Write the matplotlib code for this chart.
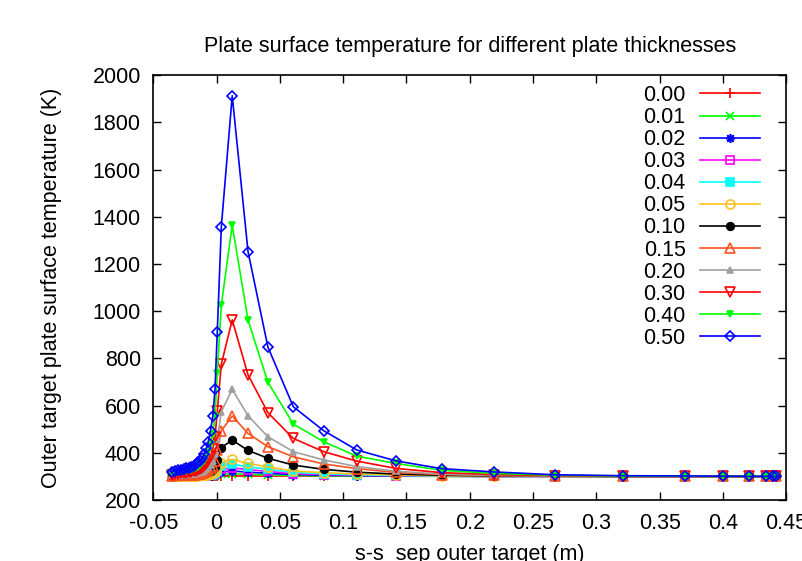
import matplotlib
matplotlib.use("Agg")
import matplotlib.pyplot as plt
import numpy as np

plt.rcParams['font.family'] = ['Liberation Sans', 'DejaVu Sans']

# shared x grid (s - s_sep, m)
x_vals = [-0.0355, -0.0330, -0.0306, -0.0283, -0.0261, -0.0240, -0.0220, -0.0200,
          -0.0181, -0.0163, -0.0146, -0.0130, -0.0114, -0.0098, -0.0082, -0.0066,
          -0.0048, -0.0030, -0.0013, 0.0005, 0.0037,
          0.0123, 0.0248, 0.0405, 0.0606, 0.0845, 0.1107, 0.1416, 0.1777, 0.2190,
          0.2674, 0.3214, 0.3697, 0.4003, 0.4206, 0.4338, 0.4395, 0.4422]

labels = ["0.00", "0.01", "0.02", "0.03", "0.04", "0.05",
          "0.10", "0.15", "0.20", "0.30", "0.40", "0.50"]

t_000 = [300] * 38
t_001 = [300, 300, 300, 300, 300, 300, 300, 300, 300, 300, 300, 300, 300, 300, 301, 301,
         301, 302, 302, 305, 309,
         311, 309, 306, 304, 303, 302, 301, 300, 300, 300, 300, 300, 300, 300, 300, 300, 300]
t_002 = [300, 300, 300, 301, 301, 301, 301, 301, 301, 301, 301, 301, 301, 302, 302, 303,
         303, 305, 307, 311, 319,
         323, 318, 313, 308, 305, 303, 302, 301, 300, 300, 300, 300, 300, 300, 300, 300, 300]
t_003 = [300, 301, 301, 301, 301, 301, 301, 301, 301, 301, 302, 302, 302, 303, 303, 304,
         305, 307, 310, 317, 330,
         336, 329, 321, 312, 308, 305, 303, 301, 300, 300, 300, 300, 300, 300, 300, 300, 300]
t_004 = [301, 301, 301, 301, 301, 301, 301, 302, 302, 302, 302, 303, 303, 304, 305, 306,
         308, 310, 315, 325, 345,
         352, 341, 330, 317, 311, 307, 304, 302, 301, 300, 300, 300, 300, 300, 300, 300, 300]
t_005 = [301, 301, 301, 302, 302, 302, 302, 302, 303, 303, 303, 304, 304, 305, 307, 308,
         311, 314, 320, 334, 358,
         372, 355, 340, 323, 316, 310, 306, 303, 301, 300, 300, 300, 300, 300, 300, 300, 300]
t_010 = [302, 303, 303, 303, 304, 304, 304, 305, 305, 306, 307, 308, 309, 311, 314, 317,
         322, 330, 342, 370, 422,
         454, 410, 377, 348, 330, 318, 310, 305, 302, 301, 300, 300, 300, 300, 300, 300, 300]
t_015 = [303, 304, 305, 305, 306, 306, 307, 307, 308, 309, 311, 312, 314, 317, 322, 326,
         335, 346, 366, 410, 494,
         556, 482, 426, 383, 353, 333, 317, 308, 304, 301, 300, 300, 300, 300, 300, 300, 300]
t_020 = [305, 306, 307, 308, 308, 309, 310, 311, 312, 314, 315, 317, 320, 325, 331, 338,
         350, 367, 396, 460, 574,
         669, 557, 468, 405, 370, 342, 322, 310, 305, 302, 301, 300, 300, 300, 300, 300, 300]
t_030 = [308, 311, 312, 313, 314, 315, 317, 318, 321, 323, 327, 330, 335, 343, 354, 366,
         387, 416, 466, 576, 776,
         963, 730, 570, 461, 405, 365, 334, 316, 308, 303, 301, 300, 300, 300, 300, 300, 300]
t_040 = [313, 317, 319, 320, 322, 324, 326, 329, 332, 336, 341, 347, 355, 367, 384, 403,
         436, 480, 558, 740, 1026,
         1365, 962, 699, 522, 447, 386, 355, 326, 313, 305, 302, 301, 300, 300, 300, 300, 300]
t_050 = [318, 325, 327, 329, 331, 334, 337, 341, 346, 352, 359, 367, 378, 396, 420, 447,
         494, 557, 669, 913, 1358,
         1913, 1252, 848, 595, 494, 412, 366, 333, 319, 307, 303, 302, 301, 300, 300, 300, 300]

series = [t_000, t_001, t_002, t_003, t_004, t_005, t_010, t_015, t_020, t_030, t_040, t_050]

colors = ['#ff0000', '#00ff00', '#0000ff', '#ff00ff', '#00ffff', '#ffc020',
          '#000000', '#ff5020', '#a0a0a0', '#ff0000', '#00ff00', '#0000ff']
markers = ['+', 'x', (8, 2, 0), 's', 's', 'o', 'o', '^', '^', 'v', 'v', 'D']
fills = [True, True, True, False, True, False, True, False, True, False, True, False]
msizes = [7, 5.5, 6.5, 5.5, 5.5, 6.5, 5.5, 6.5, 4.5, 7, 4.5, 5]

FS = 15.5

fig = plt.figure(figsize=(8.03, 5.61), dpi=100)
ax = fig.add_axes([0.191, 0.1087, 0.788, 0.7573])

for lab, ys, c, m, f, ms in zip(labels, series, colors, markers, fills, msizes):
    kw = dict(color=c, lw=1.2, marker=m, markersize=ms, markeredgewidth=1.2, label=lab)
    if not f:
        kw['markerfacecolor'] = 'none'
    ax.plot(x_vals, ys, **kw)

ax.set_xlim(-0.05, 0.45)
ax.set_ylim(200, 2000)
ax.set_xticks(np.arange(-0.05, 0.451, 0.05))
ax.set_xticklabels(["-0.05", "0", "0.05", "0.1", "0.15", "0.2", "0.25", "0.3",
                    "0.35", "0.4", "0.45"])
ax.set_yticks(np.arange(200, 2001, 200))
ax.tick_params(direction='in', length=6, width=1, top=True, right=True,
               labelsize=FS, pad=9)
for sp in ax.spines.values():
    sp.set_linewidth(1.2)

ax.set_title("Plate surface temperature for different plate thicknesses",
             fontsize=FS, pad=17)
ax.set_ylabel("Outer target plate surface temperature (K)", fontsize=FS, labelpad=22)
ax.set_xlabel("s-s_sep outer target (m)", fontsize=FS, labelpad=7.5)

leg = ax.legend(loc='upper right', bbox_to_anchor=(760 / 803, 1 - 85 / 561),
                bbox_transform=fig.transFigure, frameon=False, markerfirst=False,
                fontsize=FS, handlelength=2.8, handletextpad=0.65,
                labelspacing=0.05, borderpad=0, borderaxespad=0)

fig.savefig("out.png", dpi=100)
